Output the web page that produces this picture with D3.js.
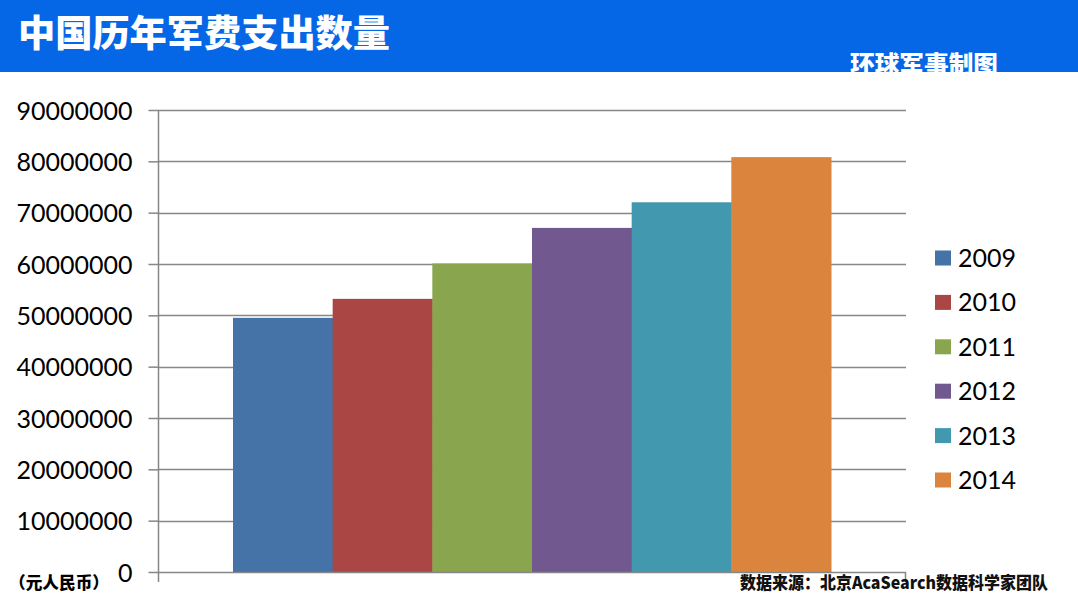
<!DOCTYPE html>
<html>
<head>
<meta charset="utf-8">
<script src="https://cdn.jsdelivr.net/npm/d3@7"></script>
<style>
html,body{margin:0;padding:0;background:#fff;}
svg{display:block;}
</style>
</head>
<body>
<svg id="chart" width="1078" height="604"></svg>
<script>
const years = ["2009", "2010", "2011", "2012", "2013", "2014"];
const values = [49510000, 53210000, 60110000, 67030000, 72020000, 80820000];
const colors = ["#4572A7", "#AA4643", "#89A54E", "#71588F", "#4198AF", "#DB843D"];
const yTicks = [0, 10000000, 20000000, 30000000, 40000000, 50000000, 60000000, 70000000, 80000000, 90000000];
const title = "中国历年军费支出数量";
const subtitle = "环球军事制图";
const unitLabel = "（元人民币）";
const sourceLabel = "数据来源：北京AcaSearch数据科学家团队";

(function () {
const svg = d3.select("#chart");
const W = 1078, H = 604;
const pLeft = 158, pRight = 906, pTop = 110, pBottom = 572;
const numFont = "Lato, 'Open Sans', sans-serif";
const cjkFont = "'Noto Sans CJK SC', sans-serif";

// banner
svg.append("rect").attr("x", 0).attr("y", 0).attr("width", W).attr("height", 72).attr("fill", "#0566E6");
svg.append("text").attr("x", 18).attr("y", 47).attr("fill", "#fff")
  .attr("font-family", cjkFont).attr("font-weight", 900).attr("font-size", 37)
  .attr("textLength", 372).attr("lengthAdjust", "spacingAndGlyphs").text(title);
svg.append("text").attr("x", 850).attr("y", 72).attr("fill", "#fff")
  .attr("font-family", cjkFont).attr("font-weight", 900).attr("font-size", 23)
  .attr("textLength", 148).attr("lengthAdjust", "spacingAndGlyphs").text(subtitle);

const y = d3.scaleLinear().domain([0, 90000000]).range([pBottom, pTop]);
// bars occupy middle of the single category, gap width 150% of a bar
const inner = d3.scaleBand().domain(years).range([233, 831]).padding(0);

// gridlines
svg.append("g").selectAll("line").data(yTicks.filter(d => d > 0)).join("line")
  .attr("x1", pLeft).attr("x2", pRight)
  .attr("y1", d => Math.round(y(d)) + 0.5).attr("y2", d => Math.round(y(d)) + 0.5)
  .attr("stroke", "#878787").attr("stroke-width", 1.5);

// bars
svg.append("g").selectAll("rect").data(years).join("rect")
  .attr("x", d => inner(d)).attr("width", inner.bandwidth() + 0.5)
  .attr("y", (d, i) => y(values[i])).attr("height", (d, i) => pBottom - y(values[i]))
  .attr("fill", (d, i) => colors[i]);

// y axis
const yAxis = d3.axisLeft(y).tickValues(yTicks).tickSize(10).tickPadding(16).tickFormat(d3.format("d"));
const gy = svg.append("g").attr("transform", `translate(${pLeft + 0.5},0)`).call(yAxis);
gy.select(".domain").attr("stroke", "#878787").attr("stroke-width", 1.5).attr("d", `M0,${pTop}V${pBottom + 10}`);
gy.selectAll(".tick line").attr("stroke", "#878787").attr("stroke-width", 1.5);
gy.selectAll(".tick text").attr("font-family", numFont).attr("font-size", 25).attr("fill", "#000").attr("dy", "0.36em");

// x axis line with end ticks
const gx = svg.append("g");
gx.append("line").attr("x1", pLeft).attr("x2", pRight).attr("y1", pBottom + 0.5).attr("y2", pBottom + 0.5)
  .attr("stroke", "#878787").attr("stroke-width", 1.5);
gx.append("line").attr("x1", pRight - 0.5).attr("x2", pRight - 0.5).attr("y1", pBottom).attr("y2", pBottom + 10)
  .attr("stroke", "#878787").attr("stroke-width", 1.5);

// legend
const lg = svg.append("g").selectAll("g").data(years).join("g")
  .attr("transform", (d, i) => `translate(935,${258 + i * 44.4})`);
lg.append("rect").attr("x", 0).attr("y", -7.5).attr("width", 16).attr("height", 15).attr("fill", (d, i) => colors[i]);
lg.append("text").attr("x", 23).attr("y", 0).attr("dy", "0.36em").attr("font-family", numFont)
  .attr("font-size", 25).attr("fill", "#000").text(d => d);

// bottom texts
svg.append("text").attr("x", 9).attr("y", 589).attr("fill", "#000")
  .attr("font-family", cjkFont).attr("font-weight", 900).attr("font-size", 16.5)
  .attr("textLength", 100).attr("lengthAdjust", "spacingAndGlyphs").text(unitLabel);
svg.append("text").attr("x", 740).attr("y", 589).attr("fill", "#111")
  .attr("font-family", cjkFont).attr("font-weight", 900).attr("font-size", 17)
  .attr("textLength", 308).attr("lengthAdjust", "spacingAndGlyphs").text(sourceLabel);
})();
</script>
</body>
</html>
